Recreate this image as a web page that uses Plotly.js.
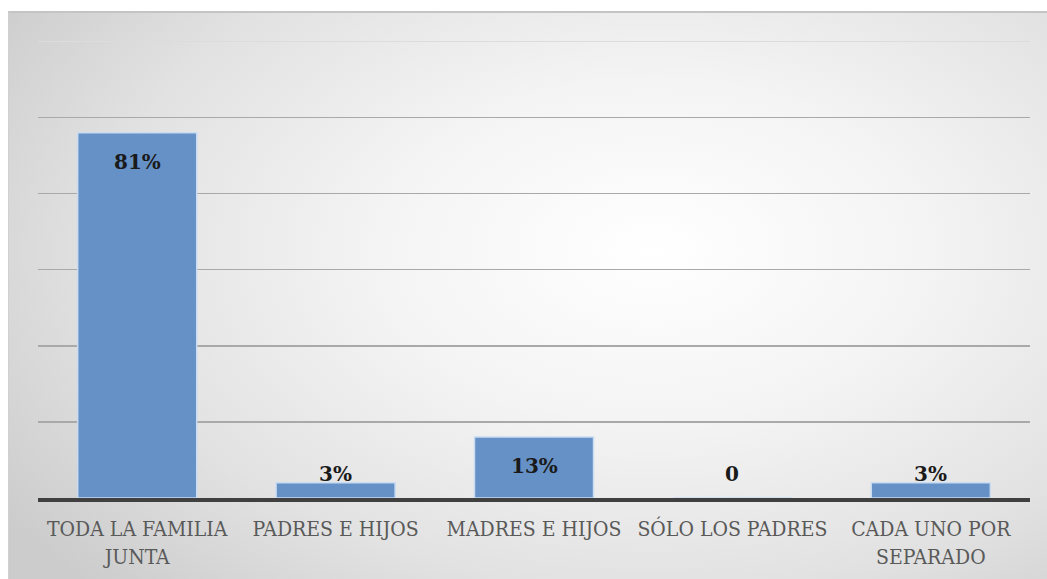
<!DOCTYPE html>
<html>
<head>
<meta charset="utf-8">
<script src="https://cdn.plot.ly/plotly-3.0.1.min.js"></script>
<style>
  html, body { margin: 0; padding: 0; background: #ffffff; }
  #bg {
    position: absolute; left: 8px; top: 11px; width: 1039px; height: 568px;
    background: radial-gradient(ellipse 75% 85% at 62% 42%, #ffffff 0%, #f4f4f4 35%, #e2e2e2 70%, #cccccc 100%);
    border-top: 2px solid #c4c4c4; border-left: 1px solid #d0d0d0; box-sizing: border-box;
  }
  #chart { position: absolute; left: 0; top: 0; width: 1047px; height: 579px; }
</style>
</head>
<body>
<div id="bg"></div>
<div id="chart"></div>
<script>
const categories = ["TODA LA FAMILIA<br>JUNTA", "PADRES E HIJOS", "MADRES E HIJOS", "SÓLO LOS PADRES", "CADA UNO POR<br>SEPARADO"];
const values = [24, 1, 4, 0, 1];
const labels = ["81%", "3%", "13%", "0", "3%"];
const yTicks = [0, 5, 10, 15, 20, 25, 30];

const annotations = values.map((v, i) => ({
  x: categories[i],
  y: v >= 2 ? v : 0,
  yshift: v >= 2 ? -29 : 24,
  yanchor: 'middle',
  xanchor: 'center',
  text: labels[i],
  showarrow: false,
  font: { family: 'DejaVu Serif', size: 20, color: '#1a1a1a', weight: 'bold' }
}));

const trace = {
  type: 'bar',
  x: categories,
  y: values,
  marker: { color: '#6591c6', line: { color: '#c9dcf2', width: 1.5 } },
  hoverinfo: 'none'
};

const layout = {
  width: 1047, height: 579,
  margin: { l: 38, r: 17, t: 41, b: 81 },
  paper_bgcolor: 'rgba(0,0,0,0)',
  plot_bgcolor: 'rgba(0,0,0,0)',
  bargap: 0.4,
  showlegend: false,
  xaxis: {
    type: 'category',
    showline: true, linecolor: '#404040', linewidth: 4,
    ticks: '', showgrid: false,
    tickfont: { family: '"DejaVu Serif Condensed", "DejaVu Serif", serif', size: 21, color: '#595959' },
    ticklabelstandoff: 9
  },
  yaxis: {
    range: [0, 30.02],
    tickvals: yTicks,
    showticklabels: false,
    gridcolor: '#a9a9a9', gridwidth: 1.5,
    zeroline: false, showline: false, ticks: ''
  },
  shapes: [{
    type: 'line', xref: 'paper', yref: 'y', x0: 0, x1: 1, y0: yTicks[yTicks.length - 1], y1: yTicks[yTicks.length - 1],
    line: { color: '#dcdcdc', width: 1.5 }, layer: 'below'
  }],
  annotations: annotations
};

Plotly.newPlot('chart', [trace], layout, { displayModeBar: false, staticPlot: true });
</script>
</body>
</html>
